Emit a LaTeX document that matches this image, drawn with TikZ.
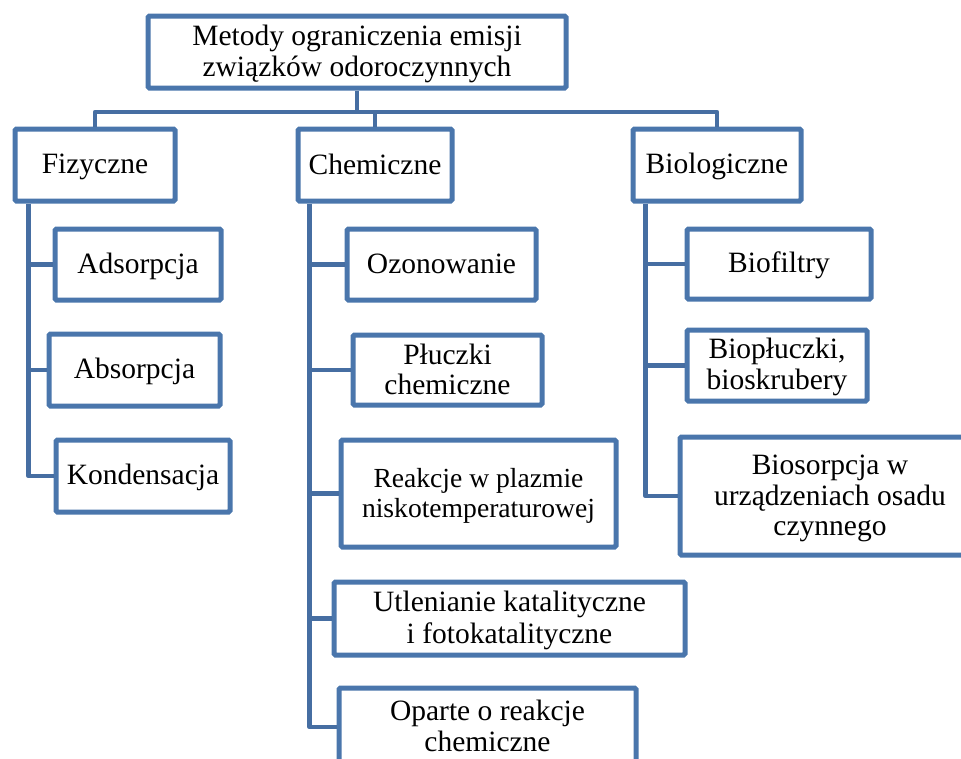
\documentclass[tikz,border=0pt]{standalone}
\usepackage{fontspec}
\setmainfont{Liberation Serif}
\definecolor{boxblue}{RGB}{74,118,172}
\definecolor{lineblue}{RGB}{70,110,162}
\newcommand{\ls}{\rule[-6pt]{0pt}{30pt}}
\begin{document}
\begin{tikzpicture}[x=1pt,y=-1pt,
  box/.style={draw=boxblue, line width=5pt, rounded corners=1.5pt, fill=white,
    align=center, inner sep=0pt, font=\fontsize{29.5}{30}\selectfont},
  conn/.style={draw=lineblue, line width=4.5pt, line join=round}]
\useasboundingbox (0,0) rectangle (961,758);
\clip (0,0) rectangle (961,758);
\coordinate (busy) at (0,112);
% boxes
\node[box, minimum width=418, minimum height=72] (top) at (357,52) {\ls Metody ograniczenia emisji\\\ls związków odoroczynnych};
\node[box, minimum width=160, minimum height=72] (fiz) at (95,165) {\ls Fizyczne};
\node[box, minimum width=154, minimum height=72] (chem) at (375,165) {\ls Chemiczne};
\node[box, minimum width=168, minimum height=72] (bio) at (717,165) {\ls Biologiczne};
\node[box, minimum width=166, minimum height=71] (ads) at (138,264.5) {\ls Adsorpcja};
\node[box, minimum width=171, minimum height=72] (abs) at (134.5,370) {\ls Absorpcja};
\node[box, minimum width=174, minimum height=72] (kond) at (143,476) {\ls Kondensacja};
\node[box, minimum width=189, minimum height=71] (ozon) at (441.5,264.5) {\ls Ozonowanie};
\node[box, minimum width=189, minimum height=70] (plucz) at (447.5,370) {\ls Płuczki\\\ls chemiczne};
\node[box, minimum width=275, minimum height=107, font=\fontsize{27.6}{30}\selectfont] (reak) at (478.5,493.5) {\ls Reakcje w plazmie\\\ls niskotemperaturowej};
\node[box, minimum width=351, minimum height=73] (utl) at (509.5,618.5) {\ls Utlenianie katalityczne\\\ls i fotokatalityczne};
\node[box, minimum width=297, minimum height=78] (opar) at (487.5,727) {\ls Oparte o reakcje\\\ls chemiczne};
\node[box, minimum width=184, minimum height=70] (biof) at (779,264) {\ls Biofiltry};
\node[box, minimum width=180, minimum height=71] (biopl) at (777,365.5) {\ls Biopłuczki,\\\ls bioskrubery};
\node[box, minimum width=300, minimum height=118] (bios) at (830,496) {\ls Biosorpcja w\\\ls urządzeniach osadu\\\ls czynnego};
% trunk tops
\coordinate (ft) at ([xshift=16pt]fiz.south west);
\coordinate (ct) at ([xshift=14pt]chem.south west);
\coordinate (bt) at ([xshift=15pt]bio.south west);
% bus
\draw[conn] (top.south) -- (top.south |- busy);
\draw[conn] (fiz.north) -- (fiz.north |- busy) -- (bio.north |- busy) -- (bio.north);
\draw[conn] (chem.north) -- (chem.north |- busy);
% Fizyczne branch
\draw[conn] (ft) |- (kond.west);
\draw[conn] (ft |- ads.west) -- (ads.west);
\draw[conn] (ft |- abs.west) -- (abs.west);
% Chemiczne branch
\draw[conn] (ct) |- (opar.west);
\draw[conn] (ct |- ozon.west) -- (ozon.west);
\draw[conn] (ct |- plucz.west) -- (plucz.west);
\draw[conn] (ct |- reak.west) -- (reak.west);
\draw[conn] (ct |- utl.west) -- (utl.west);
% Biologiczne branch
\draw[conn] (bt) |- (bios.west);
\draw[conn] (bt |- biof.west) -- (biof.west);
\draw[conn] (bt |- biopl.west) -- (biopl.west);
\end{tikzpicture}
\end{document}
